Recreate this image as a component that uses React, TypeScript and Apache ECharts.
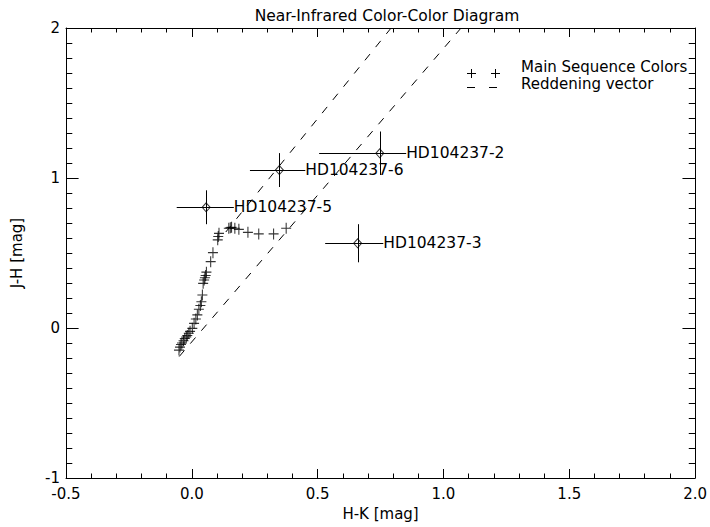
import React, { useEffect, useRef } from "react";
import * as echarts from "echarts";

// Main-sequence colours (H-K, J-H)
const msHK = [-0.051, -0.047, -0.043, -0.039, -0.033, -0.028, -0.022, -0.018, -0.012, -0.007, 0.002, 0.009, 0.016, 0.022, 0.028, 0.034, 0.038, 0.042, 0.045, 0.049, 0.052, 0.055, 0.058, 0.075, 0.084, 0.103, 0.105, 0.108, 0.147, 0.153, 0.158, 0.171, 0.187, 0.223, 0.266, 0.325, 0.375];
const msJH = [-0.147, -0.127, -0.110, -0.100, -0.085, -0.070, -0.060, -0.050, -0.035, -0.022, -0.002, 0.031, 0.060, 0.087, 0.125, 0.150, 0.175, 0.220, 0.298, 0.320, 0.335, 0.350, 0.372, 0.442, 0.502, 0.588, 0.610, 0.631, 0.665, 0.668, 0.671, 0.665, 0.658, 0.638, 0.627, 0.627, 0.665];

// Sources with error bars
const srcNames = ["HD104237-5", "HD104237-6", "HD104237-2", "HD104237-3"];
const srcHK = [0.057, 0.348, 0.747, 0.659];
const srcJH = [0.805, 1.053, 1.165, 0.565];
const srcHKErrLo = [0.117, 0.117, 0.241, 0.129];
const srcHKErrHi = [0.110, 0.103, 0.105, 0.102];
const srcJHErr = [0.113, 0.113, 0.145, 0.127];

// Reddening vectors: [startHK, startJH], [endHK, endJH]
const redA = [[0.135, 0.64], [0.792, 2.0]];
const redB = [[-0.05, -0.19], [1.07, 2.0]];

const xTicks = { min: -0.5, max: 2.0, interval: 0.5 };
const yTicks = { min: -1, max: 2, interval: 1 };

const legendLabels = ["Main Sequence Colors", "Reddening vector"];

const FONT = '"DejaVu Sans", sans-serif';

export default function App() {
  const ref = useRef<HTMLDivElement>(null);
  useEffect(() => {
    if (!ref.current) return;
    const chart = echarts.init(ref.current, null, { renderer: "svg" });
    const axisCommon = {
      axisLine: { show: true, onZero: false, lineStyle: { color: "#000", width: 1 } },
      splitLine: { show: false },
    };
    const xBase = {
      type: "value",
      min: xTicks.min,
      max: xTicks.max,
      interval: xTicks.interval,
      ...axisCommon,
      axisTick: { show: true, inside: true, length: 9, lineStyle: { color: "#000" } },
      minorTick: { show: true, splitNumber: 5, length: 4.5, lineStyle: { color: "#000" } },
    };
    const yBase = {
      type: "value",
      min: yTicks.min,
      max: yTicks.max,
      interval: yTicks.interval,
      ...axisCommon,
      axisTick: { show: true, inside: true, length: 12.6, lineStyle: { color: "#000" } },
      minorTick: { show: true, splitNumber: 10, length: 6.3, lineStyle: { color: "#000" } },
    };
    const srcData = srcHK.map((v, i) => [v, srcJH[i], srcHKErrLo[i], srcHKErrHi[i], srcJHErr[i]]);
    const px = (v: number) => Math.round(v) + 0.5;
    const option: any = {
      animation: false,
      backgroundColor: "#fff",
      title: {
        text: "Near-Infrared Color-Color Diagram",
        left: 382,
        textAlign: "center",
        top: 3,
        textStyle: { fontFamily: FONT, fontSize: 15.5, fontWeight: "normal", color: "#000" },
      },
      grid: { left: 66, top: 28, width: 632, height: 450, containLabel: false },
      xAxis: [
        {
          ...xBase,
          position: "bottom",
          name: "H-K [mag]",
          nameLocation: "middle",
          nameGap: 28,
          nameTextStyle: { fontFamily: FONT, fontSize: 15, color: "#000" },
          axisLabel: {
            show: true,
            margin: 8,
            color: "#000",
            fontFamily: FONT,
            fontSize: 15,
            formatter: (v: number) => v.toFixed(1),
          },
        },
        { ...xBase, position: "top", axisLabel: { show: false } },
      ],
      yAxis: [
        {
          ...yBase,
          position: "left",
          name: "J-H [mag]",
          nameLocation: "middle",
          nameGap: 42,
          nameTextStyle: { fontFamily: FONT, fontSize: 15, color: "#000" },
          axisLabel: {
            show: true,
            margin: 6,
            color: "#000",
            fontFamily: FONT,
            fontSize: 15,
            lineHeight: 15,
            padding: [0, 0, 8, 0],
            formatter: (v: number) => String(v),
          },
        },
        { ...yBase, position: "right", axisLabel: { show: false } },
      ],
      series: [
        {
          type: "line",
          name: "Reddening vector A",
          data: redA,
          symbol: "none",
          lineStyle: { color: "#000", width: 1, type: [8, 9] },
          clip: true,
        },
        {
          type: "line",
          name: "Reddening vector B",
          data: redB,
          symbol: "none",
          lineStyle: { color: "#000", width: 1, type: [8, 9] },
          clip: true,
        },
        {
          type: "scatter",
          name: "Main Sequence Colors",
          data: msHK.map((v, i) => [v, msJH[i]]),
          symbol: "path://M0,5L10,5M5,0L5,10",
          symbolSize: [10, 11],
          itemStyle: { color: "transparent", borderColor: "#000", borderWidth: 1.1 },
        },
        {
          type: "custom",
          name: "errors",
          data: srcData,
          renderItem: (params: any, api: any) => {
            const x = api.value(0);
            const y = api.value(1);
            const l = api.coord([x - api.value(2), y]);
            const r = api.coord([x + api.value(3), y]);
            const t = api.coord([x, y + api.value(4)]);
            const b = api.coord([x, y - api.value(4)]);
            const c = api.coord([x, y]);
            return {
              type: "group",
              children: [
                {
                  type: "line",
                  shape: { x1: l[0], y1: px(c[1]), x2: r[0], y2: px(c[1]) },
                  style: { stroke: "#000", lineWidth: 1 },
                },
                {
                  type: "line",
                  shape: { x1: px(c[0]), y1: t[1], x2: px(c[0]), y2: b[1] },
                  style: { stroke: "#000", lineWidth: 1 },
                },
                {
                  type: "text",
                  x: r[0],
                  y: c[1],
                  style: {
                    text: srcNames[params.dataIndex],
                    fill: "#000",
                    fontFamily: FONT,
                    fontSize: 15.5,
                    align: "left",
                    verticalAlign: "middle",
                  },
                },
              ],
            };
          },
        },
        {
          type: "scatter",
          name: "sources",
          data: srcHK.map((v, i) => [v, srcJH[i]]),
          symbol: "diamond",
          symbolSize: [8, 9],
          itemStyle: { color: "transparent", borderColor: "#000", borderWidth: 1 },
          z: 5,
        },
      ],
      graphic: [
        { type: "line", shape: { x1: 467, y1: 73.5, x2: 476, y2: 73.5 }, style: { stroke: "#000", lineWidth: 1 } },
        { type: "line", shape: { x1: 471.5, y1: 69, x2: 471.5, y2: 78 }, style: { stroke: "#000", lineWidth: 1 } },
        { type: "line", shape: { x1: 491, y1: 73.5, x2: 500, y2: 73.5 }, style: { stroke: "#000", lineWidth: 1 } },
        { type: "line", shape: { x1: 495.5, y1: 69, x2: 495.5, y2: 78 }, style: { stroke: "#000", lineWidth: 1 } },
        { type: "line", shape: { x1: 467, y1: 87.5, x2: 475, y2: 87.5 }, style: { stroke: "#000", lineWidth: 1 } },
        { type: "line", shape: { x1: 489, y1: 87.5, x2: 497, y2: 87.5 }, style: { stroke: "#000", lineWidth: 1 } },
        {
          type: "text",
          x: 521,
          y: 67,
          style: { text: legendLabels[0], fill: "#000", fontFamily: FONT, fontSize: 15, lineHeight: 14, align: "left", verticalAlign: "middle" },
        },
        {
          type: "text",
          x: 521,
          y: 84,
          style: { text: legendLabels[1], fill: "#000", fontFamily: FONT, fontSize: 15, lineHeight: 14, align: "left", verticalAlign: "middle" },
        },
      ],
    };
    chart.setOption(option);
    return () => chart.dispose();
  }, []);
  return (
    <div
      ref={ref}
      style={{ position: "absolute", left: 0, top: 0, width: 710, height: 527, background: "#fff" }}
    />
  );
}
